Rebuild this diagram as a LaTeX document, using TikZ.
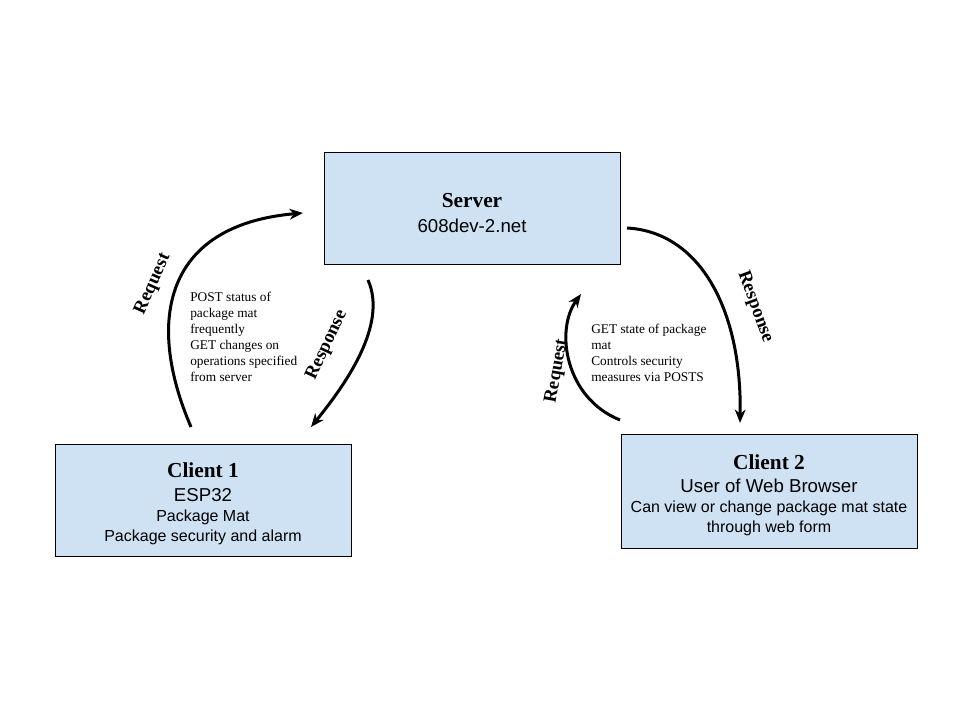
\documentclass[tikz,border=0pt]{standalone}
\usepackage{fontspec}
\setmainfont{Liberation Serif}
\setsansfont{Liberation Sans}
\usetikzlibrary{arrows.meta, calc}
\definecolor{boxblue}{RGB}{207,226,243}
\newcommand{\boxtitle}{\fontsize{16}{15}\selectfont\rmfamily\bfseries\rule{0pt}{16.5pt}}
\newcommand{\boxsub}{\fontsize{14}{15}\selectfont\sffamily\mdseries}
\newcommand{\boxline}{\fontsize{12}{15}\selectfont\sffamily\mdseries}
\tikzset{
  block/.style={draw, line width=0.75pt, fill=boxblue, minimum width=222pt,
    minimum height=84pt, align=center, inner sep=2pt,
    font=\fontsize{12}{15}\selectfont},
  flow/.style={line width=2.25pt, -{Stealth[length=10pt, width=8pt, inset=3pt]}},
  tag/.style={font=\fontsize{14}{16}\selectfont\bfseries, inner sep=0pt},
  note/.style={font=\fontsize{10}{12}\selectfont, align=left, inner sep=0pt, anchor=north west},
}

\begin{document}
\begin{tikzpicture}[x=0.75pt, y=-0.75pt]
\useasboundingbox (0,0) rectangle (960,720);
\node[block] (server) at (472,209) {\boxtitle Server\\[3.5pt]\boxsub 608dev-2.net};
\node[block] (client1) at (203,500) {\boxtitle Client 1\\[2.5pt]\boxsub ESP32\\\boxline Package Mat\\\boxline Package security and alarm};
\node[block, minimum height=85pt] (client2) at (769,491.5) {\boxtitle Client 2\\[2.5pt]\boxsub User of Web Browser\\\boxline Can view or change package mat state\\\boxline through web form};

\coordinate (reqA) at (191,427);  \coordinate (reqB) at (303,213);
\coordinate (resA) at (368,280);  \coordinate (resB) at (311,427);
\coordinate (resC) at (627,228);  \coordinate (resD) at (740,423);
\coordinate (reqC) at (620,420);  \coordinate (reqD) at (581,294);

\draw[flow] (reqA) .. controls (145,320) and (165,225) .. (reqB);
\draw[flow] (resA) .. controls (388,325) and (345,385) .. (resB);
\draw[flow] (resC) .. controls (700,232) and (742,310) .. (resD);
\draw[flow] (reqC) .. controls (565,398) and (555,330) .. (reqD);

\node[tag, rotate=66] (reqtagA) at (153,284) {Request};
\node[tag, rotate=65] (restagA) at (327,345) {Response};
\node[tag, rotate=-70] (restagB) at (755,307) {Response};
\node[tag, rotate=80] (reqtagB) at (557,371) {Request};

\node[note] (noteA) at (190,292) {POST status of\\package mat\\frequently\\GET changes on\\operations specified\\from server};
\node[note] (noteB) at (591,324) {GET state of package\\mat\\Controls security\\measures via POSTS};
\end{tikzpicture}
\end{document}
